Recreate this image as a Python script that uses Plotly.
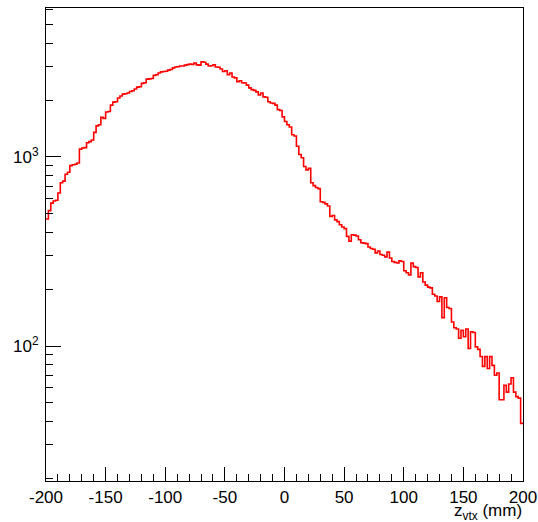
import plotly.graph_objects as go

# Vertex z distribution: 200 bins of 2 mm from -200 to 200 mm
x_min, x_max, n_bins = -200.0, 200.0, 200
counts = [
    470, 520, 570, 585, 590, 645, 730, 745, 810, 830,
    900, 910, 915, 930, 1100, 1115, 1120, 1190, 1205, 1230,
    1350, 1460, 1480, 1620, 1600, 1730, 1740, 1880, 1950, 1960,
    2050, 2100, 2150, 2160, 2180, 2220, 2240, 2290, 2340, 2350,
    2450, 2470, 2580, 2590, 2600, 2700, 2720, 2780, 2820, 2830,
    2840, 2880, 2900, 2960, 2990, 3000, 3030, 3030, 3060, 3080,
    3100, 3090, 3140, 3070, 3060, 3190, 3170, 3100, 3030, 3040,
    3070, 2990, 2980, 2920, 2830, 2860, 2720, 2780, 2650, 2620,
    2500, 2530, 2470, 2460, 2400, 2320, 2270, 2250, 2210, 2130,
    2180, 2080, 2070, 1960, 1930, 1920, 1880, 1780, 1760, 1630,
    1540, 1480, 1440, 1310, 1290, 1140, 1030, 990, 890, 855,
    870, 730, 705, 690, 680, 580, 575, 565, 550, 485,
    490, 465, 455, 438, 426, 418, 380, 358, 388, 386,
    382, 365, 352, 350, 348, 334, 328, 325, 311, 318,
    305, 302, 296, 314, 292, 280, 277, 275, 282, 280,
    250, 244, 238, 275, 263, 260, 232, 244, 218, 210,
    205, 203, 188, 184, 172, 182, 141, 180, 160, 158,
    134, 125, 123, 110, 121, 112, 123, 97, 119, 118,
    99, 96, 88, 78, 88, 76, 88, 79, 70, 72,
    52, 52, 62, 57, 63, 68, 57, 54, 53, 39,
]

x_ticks = [-200, -150, -100, -50, 0, 50, 100, 150, 200]
y_major = [100, 1000]
y_major_text = ["10<sup>2</sup>", "10<sup>3</sup>"]
y_minor = [20, 30, 40, 50, 60, 70, 80, 90,
           200, 300, 400, 500, 600, 700, 800, 900,
           2000, 3000, 4000, 5000, 6000]

bin_w = (x_max - x_min) / n_bins
edges = [x_min + i * bin_w for i in range(n_bins)] + [x_max]
step_y = counts + [counts[-1]]

font = dict(family="Liberation Sans, Arial, Helvetica, sans-serif", size=17, color="black")

fig = go.Figure()
fig.add_trace(go.Scatter(
    x=edges, y=step_y, mode="lines", line_shape="hv",
    line=dict(color="#ff0000", width=1.6), showlegend=False, hoverinfo="skip",
))

fig.update_layout(
    width=538, height=522,
    margin=dict(l=46, r=15, t=8, b=41),
    paper_bgcolor="white", plot_bgcolor="white",
    font=font,
)

fig.update_xaxes(
    range=[x_min, x_max], showgrid=False, zeroline=False, automargin=False,
    showline=True, mirror=True, linecolor="black", linewidth=1.2,
    tickmode="array", tickvals=x_ticks, ticktext=[str(v) for v in x_ticks],
    ticks="inside", ticklen=14, tickwidth=1, tickcolor="black",
    minor=dict(ticks="inside", ticklen=7, tickwidth=1, tickcolor="black",
               dtick=10, tick0=0, showgrid=False),
    tickfont=font,
)

fig.update_yaxes(
    type="log", range=[1.286, 3.788], showgrid=False, zeroline=False, automargin=False,
    showline=True, mirror=True, linecolor="black", linewidth=1.2,
    tickmode="array", tickvals=y_major, ticktext=y_major_text,
    ticks="inside", ticklen=15, tickwidth=1, tickcolor="black",
    ticklabelstandoff=3,
    minor=dict(ticks="inside", ticklen=7, tickwidth=1, tickcolor="black",
               tickmode="array", tickvals=y_minor, showgrid=False),
    tickfont=font,
)

# Axis title, right-aligned under the end of the x axis
fig.add_annotation(
    text="z<sub>vtx</sub> (mm)", xref="paper", yref="paper",
    x=1.0, y=-0.065, xanchor="right", yanchor="middle",
    showarrow=False, borderpad=0, font=font,
)

fig.write_html("out.html")
